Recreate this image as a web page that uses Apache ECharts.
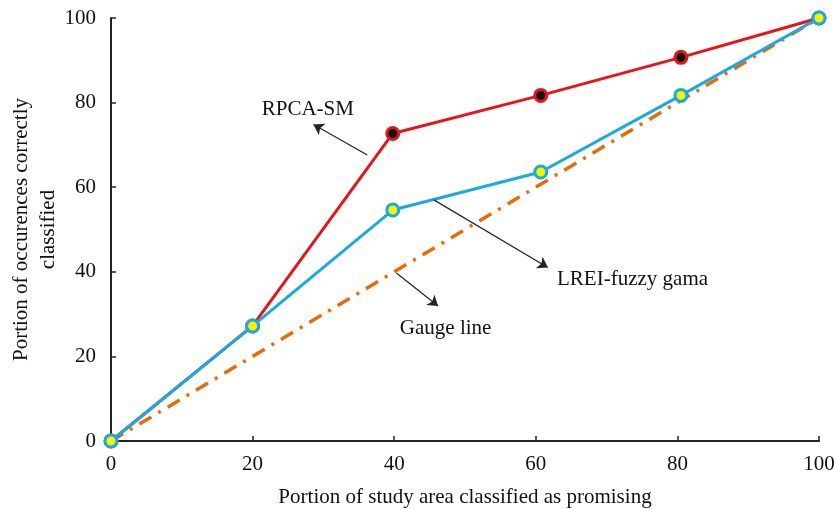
<!DOCTYPE html>
<html>
<head>
<meta charset="utf-8">
<script src="https://cdn.jsdelivr.net/npm/echarts@6/dist/echarts.min.js"></script>
<style>html,body{margin:0;padding:0;background:#fff}#main{width:834px;height:509px}</style>
</head>
<body>
<div id="main"></div>
<script>
// data
var xRpca = [0, 20, 39.8, 60.7, 80.5, 100];
var yRpca = [0, 27.2, 72.7, 81.7, 90.7, 100];
var xLrei = [0, 20, 39.8, 60.7, 80.5, 100];
var yLrei = [0, 27.2, 54.6, 63.6, 81.7, 100];
var gauge = [[0, 0], [100, 100]];

function pairs(xs, ys) {
	return xs.map(function (x, i) { return [x, ys[i]]; });
}

var font = 'Liberation Serif';
var chart = echarts.init(document.getElementById('main'));

var arrow = function (from, to) {
	return [{ coord: from, symbol: 'none' }, { coord: to, symbol: 'arrow' }];
};
var note = function (pos, text, align) {
	return {
		coord: pos, symbolSize: 0,
		label: { show: true, formatter: text, position: 'inside', align: align, color: '#111', fontSize: 21, fontFamily: font }
	};
};

var option = {
	animation: false,
	grid: { left: 111, right: 15, top: 18, bottom: 68, outerBoundsMode: 'none', containLabel: false },
	xAxis: {
		type: 'value', min: 0, max: 100, interval: 20,
		name: 'Portion of study area classified as promising',
		nameLocation: 'middle', nameGap: 46, nameMoveOverlap: false,
		nameTextStyle: { color: '#111', fontSize: 21, fontFamily: font },
		axisLine: { lineStyle: { color: '#222', width: 2 } },
		axisTick: { inside: true, length: 5, lineStyle: { color: '#222', width: 1.5 } },
		axisLabel: { color: '#111', fontSize: 21, fontFamily: font, margin: 13 },
		splitLine: { show: false }
	},
	yAxis: {
		type: 'value', min: 0, max: 100, interval: 20,
		name: 'Portion of occurences correctly\nclassified',
		nameLocation: 'middle', nameGap: 49, nameMoveOverlap: false,
		nameTextStyle: { color: '#111', fontSize: 21, fontFamily: font, lineHeight: 27 },
		axisLine: { show: true, lineStyle: { color: '#222', width: 2 } },
		axisTick: { show: true, inside: true, length: 5, lineStyle: { color: '#222', width: 1.5 } },
		axisLabel: { color: '#111', fontSize: 21, fontFamily: font, margin: 15 },
		splitLine: { show: false }
	},
	series: [
		{
			name: 'Gauge line', type: 'line', data: gauge, symbol: 'none',
			lineStyle: { color: '#e46c0a', width: 3.5, type: [14, 8, 3, 8] },
			z: 1
		},
		{
			name: 'RPCA-SM', type: 'line', data: pairs(xRpca, yRpca),
			symbol: 'circle', symbolSize: 12, showAllSymbol: true,
			lineStyle: { color: '#e8141c', width: 3 },
			itemStyle: { color: '#111', borderColor: '#e8141c', borderWidth: 3 },
			z: 2,
			markLine: {
				silent: true, symbolSize: 10,
				lineStyle: { color: '#222', width: 1.2, type: 'solid' },
				label: { show: false },
				data: [
					arrow([36.2, 67.6], [28.6, 74.8]),
					arrow([45.6, 57.0], [61.7, 41.0]),
					arrow([40.3, 39.7], [46.2, 31.9])
				]
			},
			markPoint: {
				silent: true,
				data: [
					note([27.8, 78.4], 'RPCA-SM', 'center'),
					note([63.0, 38.3], 'LREI-fuzzy gama', 'left'),
					note([40.8, 26.6], 'Gauge line', 'left')
				]
			}
		},
		{
			name: 'LREI-fuzzy gama', type: 'line', data: pairs(xLrei, yLrei),
			symbol: 'circle', symbolSize: 12, showAllSymbol: true,
			lineStyle: { color: '#1aa9e0', width: 3 },
			itemStyle: { color: '#f5f500', borderColor: '#1aa9e0', borderWidth: 3 },
			z: 3
		}
	]
};
chart.setOption(option);
</script>
</body>
</html>
